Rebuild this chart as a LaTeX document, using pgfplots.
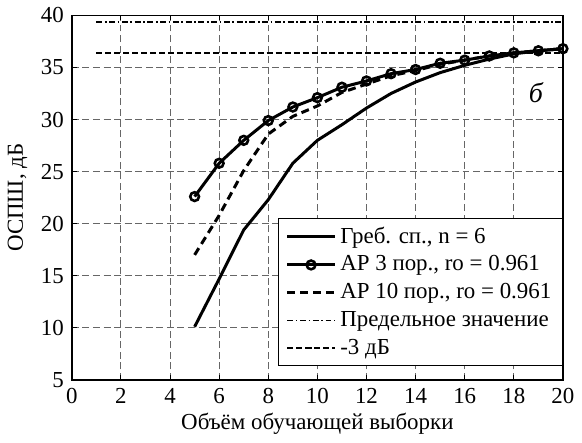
\documentclass[border=0pt]{standalone}
\usepackage{fontspec}
\setmainfont{Liberation Serif}
\usepackage{pgfplots}
\pgfplotsset{compat=1.18}
\begin{document}
\fontsize{11.5}{13}\selectfont
\begin{tikzpicture}
\begin{axis}[
  scale only axis,
  width=246.5pt, height=183pt,
  xmin=0, xmax=20, ymin=5, ymax=40,
  xtick={0,2,...,20}, ytick={5,10,...,40},
  tick align=inside, major tick length=2.5pt,
  axis line style={line width=0.7pt},
  every tick/.style={black, line width=0.5pt},
  xmajorgrids, ymajorgrids,
  grid style={dashed, black!60, line width=0.5pt, dash pattern=on 3.5pt off 1.8pt},
  xlabel={Объём обучающей выборки},
  ylabel={ОСПШ, дБ},
  xlabel style={yshift=3pt},
  ylabel style={yshift=-1pt},
  /pgf/number format/assume math mode=true,
  xticklabel={\rmfamily\pgfmathprintnumber{\tick}},
  yticklabel={\rmfamily\pgfmathprintnumber{\tick}},
  tick label style={font=\rmfamily\fontsize{11.5}{13}\selectfont},
  label style={font=\fontsize{11.5}{13}\selectfont},
  legend style={
    at={(1,0.038)}, anchor=south east,
    draw=black, line width=0.6pt,
    font=\rmfamily\fontsize{11.5}{14}\selectfont,
    cells={anchor=west},
    inner xsep=3.5pt, inner ysep=2pt,
    row sep=0.6pt,
  },
  legend image code/.code={
    \draw[mark repeat=2,mark phase=2,#1] plot coordinates {(0cm,0cm) (0.42cm,0cm) (0.84cm,0cm)};
  },
]

% Греб. сп., n = 6
\addplot[black, line width=1.5pt] coordinates {
  (5,10.1) (6,14.7) (7,19.4) (8,22.3) (9,25.8) (10,28.0) (11,29.5) (12,31.1)
  (13,32.5) (14,33.6) (15,34.5) (16,35.2) (17,35.8) (18,36.3) (19,36.6) (20,36.8)
};
\addlegendentry{Греб. сп., n = 6}

% АР 3 пор.
\addplot[black, line width=1.5pt, mark=o, mark size=2.2pt,
  mark options={solid, line width=1.3pt}] coordinates {
  (5,22.6) (6,25.8) (7,28.0) (8,29.9) (9,31.2) (10,32.1) (11,33.1) (12,33.7)
  (13,34.4) (14,34.8) (15,35.4) (16,35.7) (17,36.1) (18,36.4) (19,36.6) (20,36.8)
};
\addlegendentry{АР 3 пор., ro = 0.961}

% АР 10 пор.
\addplot[black, line width=1.5pt, dash pattern=on 4pt off 2.5pt] coordinates {
  (5,17.0) (6,20.8) (7,25.1) (8,28.6) (9,30.3) (10,31.3) (11,32.6) (12,33.4)
  (13,34.2) (14,34.7) (15,35.3) (16,35.7) (17,36.1) (18,36.4) (19,36.6) (20,36.8)
};
\addlegendentry{АР 10 пор., ro = 0.961}

% Предельное значение
\addplot[black, line width=0.9pt, dash pattern=on 3pt off 1.3pt on 0.8pt off 1.3pt] coordinates {
  (1,39.36) (20,39.36)
};
\addlegendentry{Предельное значение}

% -3 дБ
\addplot[black, line width=0.9pt, dash pattern=on 3pt off 1.5pt] coordinates {
  (1,36.36) (20,36.36)
};
\addlegendentry{-3 дБ}

\node[font=\itshape\fontsize{14}{15}\selectfont] at (axis cs:18.9,32.6) {б};
\end{axis}
\end{tikzpicture}
\end{document}
